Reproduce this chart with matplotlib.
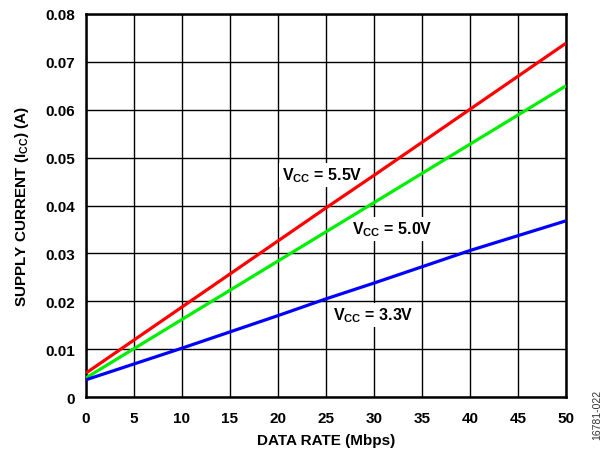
import matplotlib
matplotlib.use("Agg")
import matplotlib.pyplot as plt

plt.rcParams['font.family'] = ['Liberation Sans', 'DejaVu Sans']
plt.rcParams['font.weight'] = 'bold'
plt.rcParams['mathtext.fontset'] = 'custom'
plt.rcParams['mathtext.rm'] = 'Liberation Sans:bold'
plt.rcParams['mathtext.bf'] = 'Liberation Sans:bold'
plt.rcParams['mathtext.it'] = 'Liberation Sans:bold'

data_rate = [0, 10, 20, 25, 30, 40, 50]
icc_5v5 = [0.0050, 0.0188, 0.0326, 0.0395, 0.0463, 0.0601, 0.0739]
icc_5v0 = [0.0040, 0.0162, 0.0284, 0.0345, 0.0406, 0.0528, 0.0650]
icc_3v3 = [0.0036, 0.0102, 0.0170, 0.0205, 0.0238, 0.0306, 0.0368]

x_ticks = list(range(0, 51, 5))
y_ticks = [0, 0.01, 0.02, 0.03, 0.04, 0.05, 0.06, 0.07, 0.08]
y_labels = ['0', '0.01', '0.02', '0.03', '0.04', '0.05', '0.06', '0.07', '0.08']

fig = plt.figure(figsize=(6.07, 4.56), dpi=100)
ax = fig.add_axes([86 / 607, 1 - 398 / 456, 480 / 607, 383 / 456])

ax.plot(data_rate, icc_5v5, color='#ff0000', lw=2.3, solid_capstyle='butt', zorder=3)
ax.plot(data_rate, icc_5v0, color='#00ee00', lw=2.3, solid_capstyle='butt', zorder=3)
ax.plot(data_rate, icc_3v3, color='#0000ff', lw=2.3, solid_capstyle='butt', zorder=3)

ax.set_xlim(0, 50)
ax.set_ylim(0, 0.08)
ax.set_xticks(x_ticks)
ax.set_yticks(y_ticks)
ax.set_yticklabels(y_labels)
ax.tick_params(axis='y', length=0, labelsize=11, pad=8)
ax.tick_params(axis='x', length=0, labelsize=11, pad=10)
for lbl in ax.get_xticklabels() + ax.get_yticklabels():
    lbl.set_fontweight('bold')
ax.grid(True, color='black', lw=1.0)
for s in ax.spines.values():
    s.set_linewidth(1.8)

ax.set_xlabel('DATA RATE (Mbps)', fontsize=11, fontweight='bold', labelpad=6)
ax.set_ylabel('SUPPLY CURRENT (I$_{\\mathregular{CC}}$) (A)', fontsize=11, fontweight='bold', labelpad=10)

# curve labels sit above the grid but beneath the curves
bbox = dict(facecolor='white', edgecolor='none', pad=2.0)
label_kw = dict(fontsize=11.5, fontweight='bold', ha='left', va='baseline', bbox=bbox, zorder=2)
ax.text(20.4, 0.0454, 'V$_{\\mathregular{CC}}$ = 5.5V', **label_kw)
ax.text(27.7, 0.0341, 'V$_{\\mathregular{CC}}$ = 5.0V', **label_kw)
ax.text(25.7, 0.0162, 'V$_{\\mathregular{CC}}$ = 3.3V', **label_kw)

fig.text(597 / 607, 1 - 415 / 456, '16781-022', rotation=90, fontsize=7.5, fontweight='normal',
         color='#333333', ha='center', va='center')

fig.savefig('out.png', dpi=100)
